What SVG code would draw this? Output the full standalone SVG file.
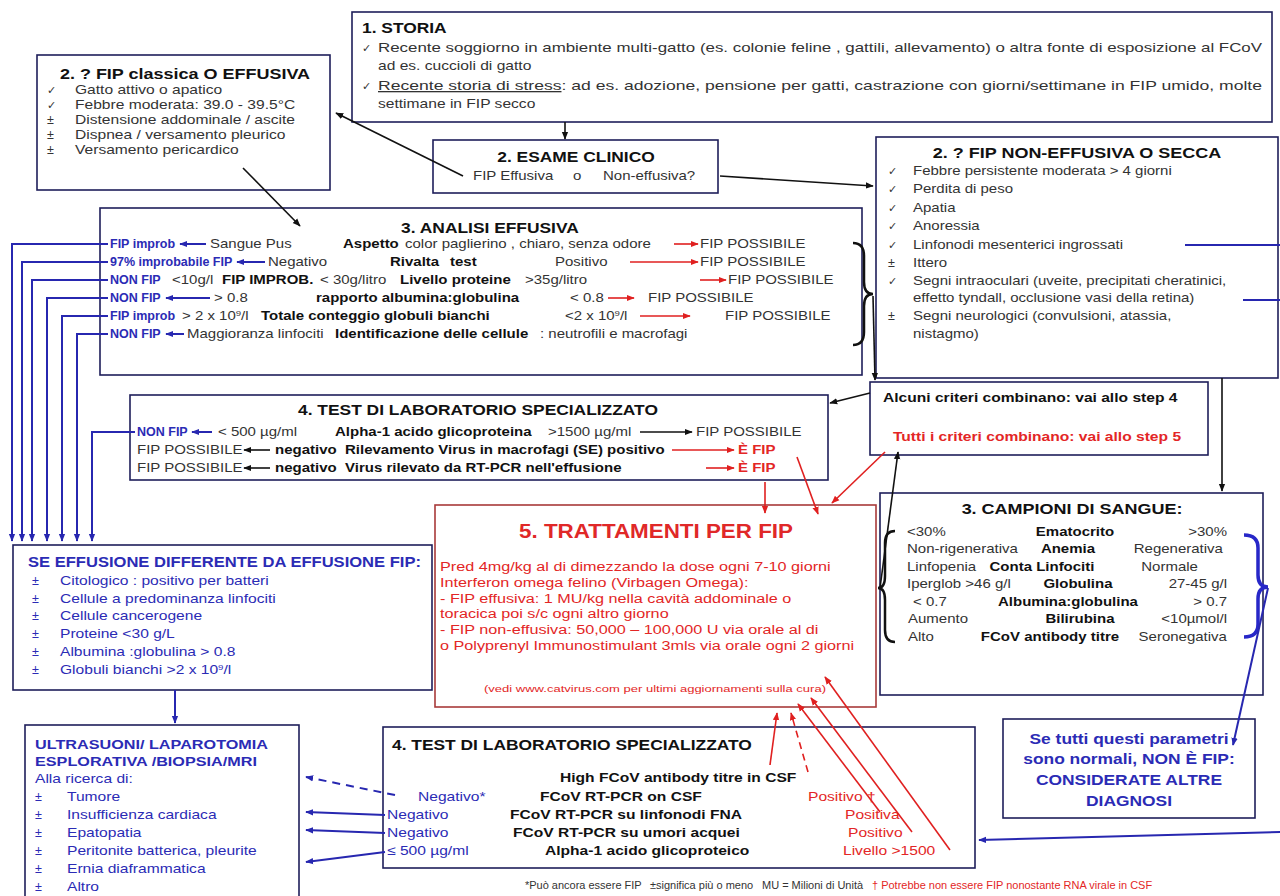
<svg xmlns="http://www.w3.org/2000/svg" width="1280" height="896" viewBox="0 0 1280 896">
<defs>
<marker id="ak" viewBox="0 0 10 10" refX="9" refY="5" markerWidth="8" markerHeight="8" markerUnits="userSpaceOnUse" orient="auto"><path d="M0,1 L10,5 L0,9 z" fill="#111"/></marker>
<marker id="ab" viewBox="0 0 10 10" refX="9" refY="5" markerWidth="8" markerHeight="8" markerUnits="userSpaceOnUse" orient="auto"><path d="M0,1 L10,5 L0,9 z" fill="#2727b0"/></marker>
<marker id="ar" viewBox="0 0 10 10" refX="9" refY="5" markerWidth="8" markerHeight="8" markerUnits="userSpaceOnUse" orient="auto"><path d="M0,1 L10,5 L0,9 z" fill="#e02020"/></marker>
<style>
text{font-family:"Liberation Sans",Arial,sans-serif;font-size:12.5px;fill:#333;transform-box:fill-box;transform-origin:0% 50%;transform:scaleX(1.2)}
.box{fill:#fff;stroke:#1e1e5a;stroke-width:1.6}
.rbox{fill:#fff;stroke:#a83a3a;stroke-width:1.6}
.b{font-weight:bold;fill:#111}
.h{font-size:14.5px;font-weight:bold;fill:#111}
.bl{fill:#2b2bb5}
.rd{fill:#e32626}
.c{text-anchor:middle;transform-origin:50% 50%}
.e{text-anchor:end;transform-origin:100% 50%}
.ns{transform:none}
.lab{font-size:12.5px;font-weight:bold;fill:#2b2bb5;transform:none}
.ck{font-family:"DejaVu Sans",sans-serif;font-size:11px;transform:none}
.lk{stroke:#111;stroke-width:1.6;fill:none}
.lb{stroke:#2727b0;stroke-width:2;fill:none}
.lr{stroke:#e02020;stroke-width:1.6;fill:none}
.f13{font-size:13px}
.tr{font-size:13.5px;fill:#e32626}
.fn{font-size:10px;transform:scaleX(1.1)}
</style>
</defs>
<rect width="1280" height="896" fill="#fff"/>

<g id="storia">
<rect class="box" x="352" y="12" width="920" height="110"/>
<text class="h" x="362" y="33">1. STORIA</text>
<text class="ck" x="362" y="52">✓</text>
<text class="ns f13" x="378" y="52" textLength="884" lengthAdjust="spacingAndGlyphs">Recente soggiorno in ambiente multi-gatto (es. colonie feline , gattili, allevamento) o altra fonte di esposizione al FCoV</text>
<text class="f13" x="378" y="70">ad es. cuccioli di gatto</text>
<text class="ck" x="362" y="90">✓</text>
<text class="ns f13" x="378" y="90" textLength="884" lengthAdjust="spacingAndGlyphs"><tspan text-decoration="underline">Recente storia di stress</tspan>: ad es. adozione, pensione per gatti, castrazione con giorni/settimane in FIP umido, molte</text>
<text class="f13" x="378" y="108">settimane in FIP secco</text>
</g>

<g id="fip-classica">
<rect class="box" x="37" y="55" width="293" height="135"/>
<text class="h c" x="185" y="79" style="font-size:15px">2. ? FIP classica O EFFUSIVA</text>
<text class="ck" x="47" y="94">✓</text><text class="f13" x="75" y="94">Gatto attivo o apatico</text>
<text class="ck" x="47" y="109">✓</text><text class="f13" x="75" y="109">Febbre moderata: 39.0 - 39.5°C</text>
<text class="ns" x="47" y="124">±</text><text class="f13" x="75" y="124">Distensione addominale / ascite</text>
<text class="ns" x="47" y="139">±</text><text class="f13" x="75" y="139">Dispnea / versamento pleurico</text>
<text class="ns" x="47" y="154">±</text><text class="f13" x="75" y="154">Versamento pericardico</text>
</g>

<g id="esame-clinico">
<rect class="box" x="433" y="140" width="285" height="53"/>
<text class="h c" x="576" y="162">2. ESAME CLINICO</text>
<text x="473" y="180">FIP Effusiva</text>
<text x="573" y="180">o</text>
<text x="603" y="180">Non-effusiva?</text>
</g>

<g id="fip-non-effusiva">
<rect class="box" x="876" y="137" width="402" height="241"/>
<text class="h c" x="1077" y="158" style="font-size:15px">2. ? FIP NON-EFFUSIVA O SECCA</text>
<text class="ck" x="888" y="175">✓</text><text x="913" y="175">Febbre persistente moderata &gt; 4 giorni</text>
<text class="ck" x="888" y="193">✓</text><text x="913" y="193">Perdita di peso</text>
<text class="ck" x="888" y="212">✓</text><text x="913" y="212">Apatia</text>
<text class="ck" x="888" y="230">✓</text><text x="913" y="230">Anoressia</text>
<text class="ck" x="888" y="249">✓</text><text x="913" y="249">Linfonodi mesenterici ingrossati</text>
<text class="ns" x="888" y="267">±</text><text x="913" y="267">Ittero</text>
<text class="ck" x="888" y="285">✓</text><text x="913" y="285">Segni intraoculari (uveite, precipitati cheratinici,</text>
<text x="913" y="302">effetto tyndall, occlusione vasi della retina)</text>
<text class="ns" x="888" y="320">±</text><text x="913" y="320">Segni neurologici (convulsioni, atassia,</text>
<text x="913" y="338">nistagmo)</text>
</g>

<g id="analisi-effusiva">
<rect class="box" x="100" y="208" width="762" height="167"/>
<text class="h c" x="490" y="233">3. ANALISI EFFUSIVA</text>

<text class="lab" x="110" y="248">FIP improb</text>
<text x="210" y="248">Sangue Pus</text>
<text class="b" x="343" y="248">Aspetto</text>
<text x="405" y="248">color paglierino , chiaro, senza odore</text>
<text x="700" y="248">FIP POSSIBILE</text>

<text class="lab" x="110" y="266">97% improbabile FIP</text>
<text x="268" y="266">Negativo</text>
<text class="b" x="390" y="266">Rivalta</text>
<text class="b" x="450" y="266">test</text>
<text x="555" y="266">Positivo</text>
<text x="700" y="266">FIP POSSIBILE</text>

<text class="lab" x="110" y="284">NON FIP</text>
<text x="172" y="284">&lt;10g/l</text>
<text class="b" x="222" y="284">FIP IMPROB.</text>
<text x="320" y="284">&lt; 30g/litro</text>
<text class="b" x="400" y="284">Livello proteine</text>
<text x="525" y="284">&gt;35g/litro</text>
<text x="728" y="284">FIP POSSIBILE</text>

<text class="lab" x="110" y="302">NON FIP</text>
<text x="214" y="302">&gt; 0.8</text>
<text class="b" x="316" y="302">rapporto albumina:globulina</text>
<text x="570" y="302">&lt; 0.8</text>
<text x="648" y="302">FIP POSSIBILE</text>

<text class="lab" x="110" y="320">FIP improb</text>
<text x="182" y="320">&gt; 2 x 10<tspan dy="-4" font-size="8">9</tspan><tspan dy="4">/l</tspan></text>
<text class="b" x="261" y="320">Totale conteggio globuli bianchi</text>
<text x="565" y="320">&lt;2 x 10<tspan dy="-4" font-size="8">9</tspan><tspan dy="4">/l</tspan></text>
<text x="725" y="320">FIP POSSIBILE</text>

<text class="lab" x="110" y="338">NON FIP</text>
<text x="187" y="338">Maggioranza linfociti</text>
<text class="b" x="335" y="338">Identificazione delle cellule</text>
<text x="540" y="338">:  neutrofili  e macrofagi</text>

<line class="lb" x1="206" y1="244" x2="180" y2="244" marker-end="url(#ab)"/>
<line class="lr" x1="674" y1="244" x2="698" y2="244" marker-end="url(#ar)"/>
<line class="lb" x1="265" y1="262" x2="237" y2="262" marker-end="url(#ab)"/>
<line class="lr" x1="630" y1="262" x2="698" y2="262" marker-end="url(#ar)"/>
<line class="lr" x1="700" y1="280" x2="726" y2="280" marker-end="url(#ar)"/>
<line class="lb" x1="210" y1="298" x2="166" y2="298" marker-end="url(#ab)"/>
<line class="lr" x1="608" y1="298" x2="634" y2="298" marker-end="url(#ar)"/>
<line class="lr" x1="640" y1="316" x2="690" y2="316" marker-end="url(#ar)"/>
<line class="lb" x1="184" y1="334" x2="166" y2="334" marker-end="url(#ab)"/>
<path d="M853,243 Q864,243 864,256 L864,282 Q864,294 873,294 Q864,294 864,306 L864,332 Q864,345 853,345" stroke="#111" stroke-width="2.5" fill="none"/>
</g>

<g id="criteri">
<rect class="box" x="870" y="382" width="338" height="73"/>
<text class="b f13" x="883" y="402">Alcuni criteri combinano: vai allo step 4</text>
<text class="b rd f13" x="893" y="441">Tutti i criteri combinano: vai allo step 5</text>
</g>

<g id="test-lab-1">
<rect class="box" x="130" y="395" width="698" height="85"/>
<text class="h c" x="478" y="415">4. TEST DI LABORATORIO SPECIALIZZATO</text>
<text class="lab" x="137" y="436">NON FIP</text>
<text x="218" y="436">&lt; 500 µg/ml</text>
<text class="b" x="335" y="436">Alpha-1 acido glicoproteina</text>
<text x="548" y="436">&gt;1500 µg/ml</text>
<text x="696" y="436">FIP POSSIBILE</text>
<text x="137" y="454">FIP POSSIBILE</text>
<text class="b" x="275" y="454">negativo</text>
<text class="b" x="345" y="454">Rilevamento Virus in macrofagi (SE) positivo</text>
<text class="b rd" x="738" y="454">È FIP</text>
<text x="137" y="472">FIP POSSIBILE</text>
<text class="b" x="275" y="472">negativo</text>
<text class="b" x="345" y="472">Virus rilevato da RT-PCR nell'effusione</text>
<text class="b rd" x="738" y="472">È FIP</text>
<line class="lb" x1="212" y1="432" x2="192" y2="432" marker-end="url(#ab)"/>
<line class="lk" x1="640" y1="432" x2="692" y2="432" marker-end="url(#ak)"/>
<line class="lk" x1="270" y1="450" x2="244" y2="450" marker-end="url(#ak)"/>
<line class="lr" x1="672" y1="450" x2="734" y2="450" marker-end="url(#ar)"/>
<line class="lk" x1="270" y1="468" x2="244" y2="468" marker-end="url(#ak)"/>
<line class="lr" x1="706" y1="468" x2="734" y2="468" marker-end="url(#ar)"/>
</g>

<g id="trattamenti">
<rect class="rbox" x="435" y="505" width="441" height="202"/>
<text class="c" x="656" y="538" style="font-size:20px;font-weight:bold;fill:#e02828;transform:scaleX(1.12)">5. TRATTAMENTI PER FIP</text>
<text class="tr" x="440" y="571">Pred 4mg/kg al di dimezzando la dose ogni 7-10 giorni</text>
<text class="tr" x="440" y="587">Interferon omega felino (Virbagen Omega):</text>
<text class="tr" x="440" y="603"> - FIP effusiva: 1 MU/kg nella cavità addominale o</text>
<text class="tr" x="440" y="618">toracica poi s/c ogni altro giorno</text>
<text class="tr" x="440" y="634"> - FIP non-effusiva:  50,000 – 100,000 U via orale al di</text>
<text class="tr" x="440" y="650">o Polyprenyl Immunostimulant 3mls via orale ogni 2 giorni</text>
<text class="rd ns" x="484" y="692" style="font-size:9px" textLength="342" lengthAdjust="spacingAndGlyphs">(vedi www.catvirus.com per ultimi aggiornamenti sulla cura)</text>
</g>

<g id="campioni-sangue">
<rect class="box" x="880" y="493" width="383" height="202"/>
<text class="h c" x="1072" y="514" style="font-size:15px">3. CAMPIONI DI SANGUE:</text>
<text x="907" y="536">&lt;30%</text><text class="b c" x="1075" y="536">Ematocrito</text><text class="e" x="1227" y="536">&gt;30%</text>
<text x="907" y="553">Non-rigenerativa</text><text class="b c" x="1068" y="553">Anemia</text><text class="e" x="1223" y="553">Regenerativa</text>
<text x="907" y="571">Linfopenia</text><text class="b c" x="1042" y="571">Conta Linfociti</text><text class="e" x="1198" y="571">Normale</text>
<text x="907" y="588">Iperglob &gt;46 g/l</text><text class="b c" x="1078" y="588">Globulina</text><text class="e" x="1227" y="588">27-45 g/l</text>
<text x="913" y="606">&lt; 0.7</text><text class="b c" x="1068" y="606">Albumina:globulina</text><text class="e" x="1227" y="606">&gt; 0.7</text>
<text x="908" y="623">Aumento</text><text class="b c" x="1080" y="623">Bilirubina</text><text class="e" x="1227" y="623">&lt;10µmol/l</text>
<text x="908" y="641">Alto</text><text class="b c" x="1050" y="641">FCoV antibody titre</text><text class="e" x="1227" y="641">Seronegativa</text>
<path d="M895,531 Q885,531 885,543 L885,576 Q885,588 878,588 Q885,588 885,600 L885,630 Q885,642 895,642" stroke="#111" stroke-width="2.5" fill="none"/>
<path d="M1244,535 Q1258,535 1258,548 L1258,575 Q1258,587 1268,587 Q1258,587 1258,599 L1258,624 Q1258,637 1244,637" stroke="#2727c8" stroke-width="3.5" fill="none"/>
</g>

<g id="se-effusione">
<rect class="box" x="13" y="545" width="419" height="145"/>
<text class="b bl" x="28" y="567" style="font-size:13.8px">SE EFFUSIONE DIFFERENTE DA EFFUSIONE FIP:</text>
<text class="bl ns" x="32" y="585">±</text><text class="bl f13" x="60" y="585">Citologico : positivo per batteri</text>
<text class="bl ns" x="32" y="603">±</text><text class="bl f13" x="60" y="603">Cellule a predominanza linfociti</text>
<text class="bl ns" x="32" y="620">±</text><text class="bl f13" x="60" y="620">Cellule cancerogene</text>
<text class="bl ns" x="32" y="638">±</text><text class="bl f13" x="60" y="638">Proteine &lt;30 g/L</text>
<text class="bl ns" x="32" y="656">±</text><text class="bl f13" x="60" y="656">Albumina :globulina &gt; 0.8</text>
<text class="bl ns" x="32" y="674">±</text><text class="bl f13" x="60" y="674">Globuli bianchi  &gt;2 x 10<tspan dy="-4" font-size="8">9</tspan><tspan dy="4">/l</tspan></text>
</g>

<g id="ultrasuoni">
<rect class="box" x="25" y="725" width="274" height="185"/>
<text class="b bl" x="35" y="749" style="font-size:13.5px">ULTRASUONI/ LAPAROTOMIA</text>
<text class="b bl" x="35" y="766" style="font-size:13.5px">ESPLORATIVA /BIOPSIA/MRI</text>
<text class="bl f13" x="35" y="783">Alla ricerca di:</text>
<text class="bl ns" x="35" y="801">±</text><text class="bl f13" x="67" y="801">Tumore</text>
<text class="bl ns" x="35" y="819">±</text><text class="bl f13" x="67" y="819">Insufficienza cardiaca</text>
<text class="bl ns" x="35" y="837">±</text><text class="bl f13" x="67" y="837">Epatopatia</text>
<text class="bl ns" x="35" y="855">±</text><text class="bl f13" x="67" y="855">Peritonite batterica, pleurite</text>
<text class="bl ns" x="35" y="873">±</text><text class="bl f13" x="67" y="873">Ernia diaframmatica</text>
<text class="bl ns" x="35" y="891">±</text><text class="bl f13" x="67" y="891">Altro</text>
</g>

<g id="test-lab-2">
<rect class="box" x="383" y="727" width="592" height="141"/>
<text class="h" x="392" y="750">4. TEST DI LABORATORIO SPECIALIZZATO</text>
<text class="b f13" x="560" y="782">High FCoV antibody titre in CSF</text>
<text class="bl f13" x="418" y="801">Negativo*</text><text class="b f13" x="540" y="801">FCoV RT-PCR on CSF</text><text class="rd f13" x="808" y="801">Positivo †</text>
<text class="bl f13" x="387" y="819">Negativo</text><text class="b f13" x="510" y="819">FCoV RT-PCR su linfonodi FNA</text><text class="rd f13" x="845" y="819">Positiva</text>
<text class="bl f13" x="387" y="837">Negativo</text><text class="b f13" x="513" y="837">FCoV RT-PCR su umori acquei</text><text class="rd f13" x="848" y="837">Positivo</text>
<text class="bl f13" x="387" y="855">≤ 500 µg/ml</text><text class="b f13" x="545" y="855">Alpha-1 acido glicoproteico</text><text class="rd f13" x="843" y="855">Livello &gt;1500</text>
</g>

<g id="non-fip">
<rect class="box" x="1003" y="719" width="252" height="99"/>
<text class="b bl c" x="1129" y="744" style="font-size:14.5px">Se tutti questi parametri</text>
<text class="b bl c" x="1129" y="764" style="font-size:14.5px">sono normali, NON È FIP:</text>
<text class="b bl c" x="1129" y="785" style="font-size:14.5px">CONSIDERATE ALTRE</text>
<text class="b bl c" x="1129" y="806" style="font-size:14.5px">DIAGNOSI</text>
</g>

<g id="footnote">
<text class="fn" x="525" y="889">*Può ancora essere FIP</text>
<text class="fn" x="650" y="889">±significa più o meno</text>
<text class="fn" x="762" y="889">MU = Milioni di Unità</text>
<text class="fn rd" x="872" y="889">† Potrebbe non essere FIP nonostante RNA virale in CSF</text>
</g>

<g id="connectors">
<line class="lk" x1="565" y1="122" x2="565" y2="139" marker-end="url(#ak)"/>
<line class="lk" x1="463" y1="176" x2="336" y2="113" marker-end="url(#ak)"/>
<line class="lk" x1="720" y1="176" x2="873" y2="186" marker-end="url(#ak)"/>
<line class="lk" x1="243" y1="168" x2="300" y2="226" marker-end="url(#ak)"/>
<line class="lk" x1="873" y1="296" x2="875" y2="380" marker-end="url(#ak)"/>
<line class="lk" x1="1222" y1="378" x2="1222" y2="491" marker-end="url(#ak)"/>
<line class="lk" x1="870" y1="393" x2="830" y2="403" marker-end="url(#ak)"/>
<line class="lk" x1="880" y1="588" x2="898" y2="452" marker-end="url(#ak)"/>
<line class="lr" x1="885" y1="452" x2="832" y2="503" marker-end="url(#ar)"/>
<line class="lr" x1="797" y1="457" x2="818" y2="514" marker-end="url(#ar)"/>
<line class="lr" x1="765" y1="482" x2="765" y2="513" marker-end="url(#ar)"/>
<line class="lb" x1="1268" y1="588" x2="1233" y2="745" marker-end="url(#ab)"/>
<line class="lb" x1="1185" y1="245" x2="1280" y2="245"/>
<line class="lb" x1="1243" y1="300" x2="1280" y2="300"/>
<line class="lb" x1="1280" y1="832" x2="979" y2="840" marker-end="url(#ab)"/>
<path class="lb" d="M108,244 H12 V541" marker-end="url(#ab)"/>
<path class="lb" d="M108,262 H22 V541" marker-end="url(#ab)"/>
<path class="lb" d="M108,280 H32 V541" marker-end="url(#ab)"/>
<path class="lb" d="M108,298 H47 V541" marker-end="url(#ab)"/>
<path class="lb" d="M108,316 H62 V541" marker-end="url(#ab)"/>
<path class="lb" d="M108,334 H77 V541" marker-end="url(#ab)"/>
<path class="lb" d="M135,432 H92 V541" marker-end="url(#ab)"/>
<line class="lb" x1="175" y1="690" x2="175" y2="723" marker-end="url(#ab)"/>
<line class="lb" x1="395" y1="795" x2="306" y2="777" stroke-dasharray="8,6" marker-end="url(#ab)"/>
<line class="lb" x1="385" y1="815" x2="306" y2="812" marker-end="url(#ab)"/>
<line class="lb" x1="385" y1="833" x2="306" y2="830" marker-end="url(#ab)"/>
<line class="lb" x1="385" y1="852" x2="306" y2="862" marker-end="url(#ab)"/>
<line class="lr" x1="770" y1="765" x2="777" y2="713" marker-end="url(#ar)"/>
<line class="lr" x1="808" y1="772" x2="791" y2="713" stroke-dasharray="7,5" marker-end="url(#ar)"/>
<line class="lr" x1="880" y1="812" x2="798" y2="704" marker-end="url(#ar)"/>
<line class="lr" x1="912" y1="832" x2="811" y2="698" marker-end="url(#ar)"/>
<line class="lr" x1="950" y1="850" x2="825" y2="677" marker-end="url(#ar)"/>
</g>
</svg>
